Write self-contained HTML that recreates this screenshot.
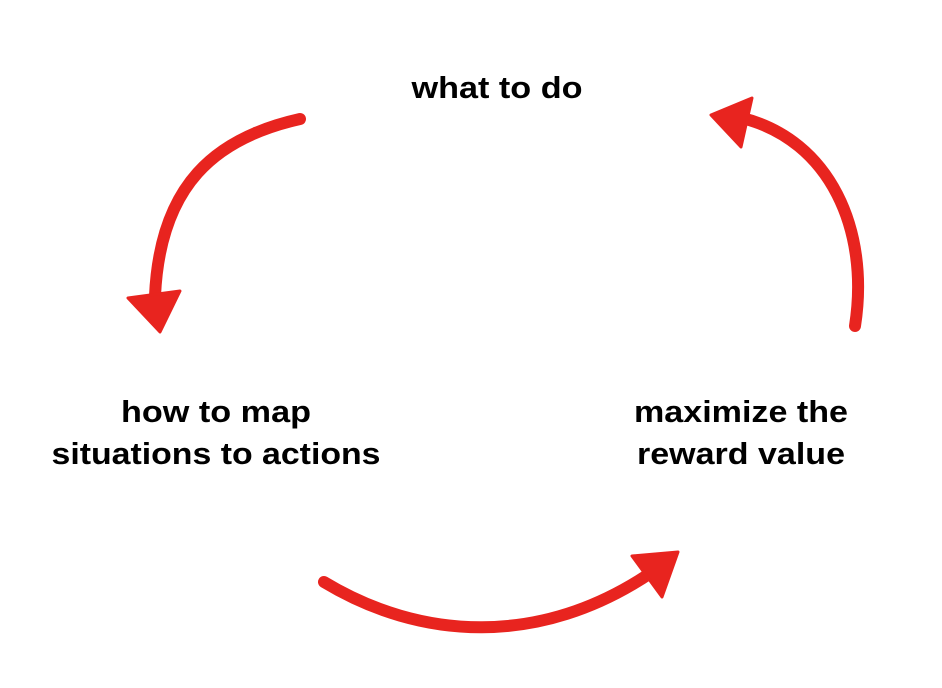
<!DOCTYPE html>
<html><head><meta charset="utf-8"><style>
html,body{margin:0;padding:0;background:#fff;}
svg{display:block}
text{font-family:"Liberation Sans",Arial,sans-serif;font-weight:bold;font-size:31px;fill:#000;text-anchor:middle}
</style></head><body>
<svg width="942" height="688" viewBox="0 0 942 688" xmlns="http://www.w3.org/2000/svg">
<g fill="none" stroke="#e8241f" stroke-width="12" stroke-linecap="round">
<path d="M300,119 C215,138 160,185 155,296"/>
<path d="M324,582 C420,640 540,648 652,572"/>
<path d="M855,326 C870,230 830,140 742,118"/>
</g>
<g fill="#e8241f" stroke="#e8241f" stroke-width="3" stroke-linejoin="round">
<polygon points="128,298 180,291 160,332"/>
<polygon points="632,556 678,552 662,597"/>
<polygon points="711,115 752,98 741,147"/>
</g>
<text x="497" y="98" textLength="171" lengthAdjust="spacingAndGlyphs">what to do</text>
<text x="216" y="422" textLength="190" lengthAdjust="spacingAndGlyphs">how to map</text>
<text x="216" y="464" textLength="329" lengthAdjust="spacingAndGlyphs">situations to actions</text>
<text x="741" y="422" textLength="214" lengthAdjust="spacingAndGlyphs">maximize the</text>
<text x="741" y="464" textLength="208" lengthAdjust="spacingAndGlyphs">reward value</text>
</svg>
</body></html>
